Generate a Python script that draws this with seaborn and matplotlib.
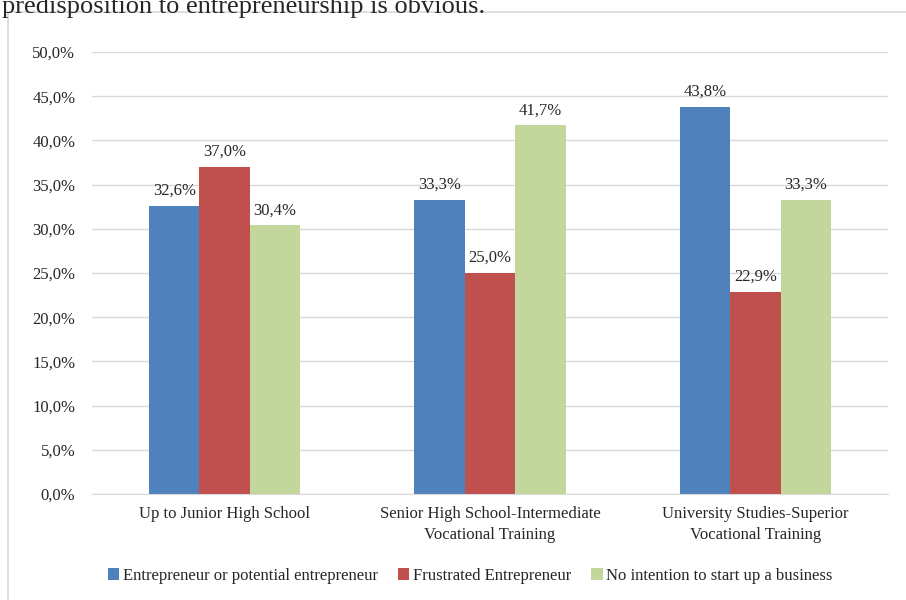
import pandas as pd
import matplotlib.pyplot as plt
import seaborn as sns
from matplotlib.patches import Rectangle

categories = ["Up to Junior High School",
              "Senior High School-Intermediate\nVocational Training",
              "University Studies-Superior\nVocational Training"]
series = ["Entrepreneur or potential entrepreneur",
          "Frustrated Entrepreneur",
          "No intention to start up a business"]
entrepreneur = [32.6, 33.3, 43.8]
frustrated = [37.0, 25.0, 22.9]
no_intention = [30.4, 41.7, 33.3]
colors = ["#4F81BD", "#C0504D", "#C3D69B"]

rows = []
for s, vals in zip(series, [entrepreneur, frustrated, no_intention]):
    for c, v in zip(categories, vals):
        rows.append({"Category": c, "Series": s, "Value": v})
df = pd.DataFrame(rows)

sns.set_style("white")
plt.rcParams['font.family'] = ['Liberation Serif', 'DejaVu Serif']
fs = 12

fig = plt.figure(figsize=(9.06, 6), dpi=100)
ax = fig.add_axes([92/906, 106/600, 796/906, 442/600])

sns.barplot(data=df, x="Category", y="Value", hue="Series", palette=colors,
            width=0.57, gap=0, saturation=1, linewidth=0, ax=ax, legend=True)

ax.set_ylim(0, 50)
ax.set_xlim(-0.5, 2.5)
ax.set_yticks(range(0, 51, 5))
ax.set_yticklabels([f"{t:.1f}%".replace(".", ",") for t in range(0, 51, 5)], fontsize=fs)
ax.tick_params(axis='x', labelsize=fs, length=0, pad=9)
ax.tick_params(axis='y', length=0, pad=12)
for lbl in ax.get_xticklabels():
    lbl.set_linespacing(1.35)
ax.grid(axis='y', color='#d9d9d9', linewidth=1)
ax.set_axisbelow(True)
for sp in ["top", "right", "left"]:
    ax.spines[sp].set_visible(False)
ax.spines["bottom"].set_color('#d9d9d9')
ax.set_xlabel("")
ax.set_ylabel("")

for cont in ax.containers:
    ax.bar_label(cont, labels=[f"{b.get_height():.1f}%".replace(".", ",") for b in cont],
                 padding=5, fontsize=fs)

handles, labels = ax.get_legend_handles_labels()
ax.legend_.remove()
fig.legend(handles, labels, loc="center", bbox_to_anchor=(470/906, 1 - 576/600),
           ncol=3, frameon=False, fontsize=fs, handlelength=0.7, handleheight=0.7,
           handletextpad=0.2, columnspacing=1.2)

# chart border (cropped) and cut-off caption text above
fig.patches.append(Rectangle((8/906, -0.1), 1.2, 1 - 12/600 + 0.1, transform=fig.transFigure,
                             fill=False, edgecolor='#d9d9d9', linewidth=1.2))
fig.text(0.002, 1 - 13/600, "predisposition to entrepreneurship is obvious.",
         fontsize=19, va="baseline", ha="left")

fig.savefig("out.png", dpi=100)
